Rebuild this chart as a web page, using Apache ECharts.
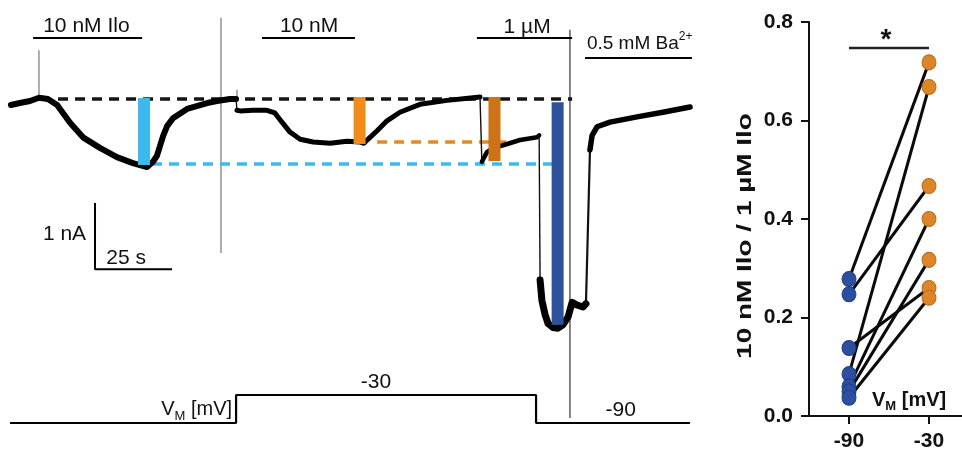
<!DOCTYPE html>
<html>
<head>
<meta charset="utf-8">
<title>Ilo currents</title>
<script src="https://cdn.jsdelivr.net/npm/echarts@6.0.0/dist/echarts.min.js"></script>
<style>
html,body{margin:0;padding:0;background:#ffffff;}
#chart{width:962px;height:449px;}
</style>
</head>
<body>
<div id="chart"></div>
<script>
// ===== Membrane current trace (time in s, current in nA) =====
const traceIlo10nM_m90 = [[0.3,-0.09],[3.2,-0.06],[6.5,-0.03],[9.4,0.02],[12.3,0.0],[15.3,-0.09],[19.5,-0.36],[23.7,-0.58],[29.2,-0.74],[34.7,-0.88],[39.9,-0.97],[44.5,-1.03],[46.4,-0.95],[47.7,-0.86],[49.7,-0.56],[51.0,-0.41],[52.9,-0.29],[57.5,-0.15],[64.0,-0.06],[67.2,-0.03],[71.4,0.0],[73.4,0.0]];
const traceIlo10nM_m30 = [[73.7,-0.17],[74.7,-0.18],[78.9,-0.17],[83.4,-0.17],[86.0,-0.21],[88.3,-0.35],[90.9,-0.50],[94.2,-0.61],[98.4,-0.65],[103.9,-0.67],[109.4,-0.64],[113.6,-0.65],[114.9,-0.67],[116.2,-0.61],[119.2,-0.48],[122.4,-0.33],[126.6,-0.20],[133.1,-0.08],[141.9,-0.02],[150.3,0.02],[152.6,0.03]];
const traceIlo1uM_m30 = [[153.2,-0.95],[154.9,-0.80],[157.0,-0.74],[160.1,-0.70],[165.6,-0.62],[171.1,-0.58],[171.8,-0.55]];
const traceIlo1uM_m90 = [[172.1,-2.74],[172.7,-3.05],[173.7,-3.26],[174.7,-3.40],[176.3,-3.46],[177.9,-3.47],[179.5,-3.42],[181.2,-3.30],[182.5,-3.08],[184.1,-3.12],[186.0,-3.15],[187.0,-3.10]];
const traceBa = [[188.3,-0.77],[189.0,-0.55],[190.6,-0.42],[194.8,-0.35],[203.6,-0.27],[212.0,-0.20],[220.8,-0.12]];

// ===== Voltage protocol (s, mV) =====
const voltageTime  = [0, 73.4, 73.4, 170.8, 170.8, 220.8];
const voltageLevel = [-90, -90, -30, -30, -90, -90];
const voltageLabelText  = ['-30', '-90'];
const voltageLabelTime  = [118.8, 198.3];
const voltageLabelLevel = [-2.1, -63.2];

// ===== Drug application bars =====
const drugNames      = ['10 nM Ilo', '10 nM', '1 µM', '0.5 mM Ba'];
const drugStart      = [7.5, 81.8, 151.6, 186.7];
const drugEnd        = [42.9, 112.0, 182.5, 221.4];
const drugLevel      = [0.924, 0.924, 0.924, 0.62];
const drugLabelTime  = [24.8, 97.1, 167.9, 187.3];
const drugLabelLevel = [1.11, 1.11, 1.09, 0.833];

// ===== Amplitude bars (nA) =====
const ampTime   = [43.5, 113.5, 157.3, 177.8];
const ampTop    = [0.015, 0.03, 0.03, -0.05];
const ampBottom = [-1.0, -0.68, -0.94, -3.42];

// ===== Dashed reference levels (nA) =====
const refLevel = [0, -0.985, -0.65];
const refStart = [15.6, 46.1, 119.2];
const refEnd   = [182.5, 176.3, 162.3];

// ===== Switching artifacts =====
const artifactTime   = [9.4, 68.5, 73.7, 181.8];
const artifactTop    = [0.74, 1.23, 0.14, 1.05];
const artifactBottom = [0.02, -2.33, -0.02, -4.83];

// ===== Scale bar =====
const scaleBarTime = 25;      // s
const scaleBarCurrent = 1;    // nA
const scaleBarOrigin = [27.6, -2.576];
const scaleLabelText  = ['1 nA', '25 s'];
const scaleLabelTime  = [24.7, 37.7];
const scaleLabelLevel = [-2.05, -2.41];

// ===== Ratio panel =====
const vmCategories = ['-90', '-30'];
const ratioAtM90 = [0.278, 0.247, 0.138, 0.085, 0.060, 0.050, 0.037];
const ratioAtM30 = [0.718, 0.467, 0.260, 0.668, 0.400, 0.317, 0.240];
const ratioTicks = [0, 0.2, 0.4, 0.6, 0.8];
const sigLevel = 0.747;

// ===== Styles =====
const FF = '"Liberation Sans", Arial, Helvetica, sans-serif';
const ampColors = ['#3cbaec', '#f28b1b', '#cc7318', '#2e519e'];
const refColors = ['#151515', '#3cbaec', '#e2892c'];
const blueDot = '#2d4fa0';
const orangeDot = '#dd8529';

const chart = echarts.init(document.getElementById('chart'), null, {renderer: 'canvas'});

const series = [];

// dashed reference lines
refLevel.forEach((lv, i) => {
  series.push({
    type: 'line', xAxisIndex: 0, yAxisIndex: 0, symbol: 'none', silent: true, z: 2,
    data: [[refStart[i], lv], [refEnd[i], lv]],
    lineStyle: {color: refColors[i], width: 3.5, type: [10, 7]}
  });
});

// artifacts
artifactTime.forEach((t, i) => {
  series.push({
    type: 'line', xAxisIndex: 0, yAxisIndex: 0, symbol: 'none', silent: true, z: 1,
    data: [[t, artifactTop[i]], [t, artifactBottom[i]]],
    lineStyle: {color: i === 3 ? '#333333' : '#777777', width: 1.2}
  });
});

// trace segments
const traceSegments = [traceIlo10nM_m90, traceIlo10nM_m30, traceIlo1uM_m30, traceIlo1uM_m90, traceBa];
const segWidths = [6, 5, 4.5, 7, 5.5];
traceSegments.forEach((seg, i) => {
  series.push({
    type: 'line', xAxisIndex: 0, yAxisIndex: 0, symbol: 'none', silent: true, z: 3,
    data: seg, lineStyle: {color: '#000', width: segWidths[i], join: 'round', cap: 'round'}
  });
  if (i < traceSegments.length - 1) {
    const nxt = traceSegments[i + 1];
    series.push({
      type: 'line', xAxisIndex: 0, yAxisIndex: 0, symbol: 'none', silent: true, z: 3,
      data: [seg[seg.length - 1], nxt[0]], lineStyle: {color: '#111', width: i === 3 ? 2.2 : 1.4}
    });
  }
});

// amplitude bars
series.push({
  type: 'custom', xAxisIndex: 0, yAxisIndex: 0, silent: true, z: 5,
  data: ampTime.map((t, i) => [t, ampTop[i], ampBottom[i], i]),
  renderItem: (params, api) => {
    const t = api.value(0);
    const p1 = api.coord([t, api.value(1)]);
    const p2 = api.coord([t, api.value(2)]);
    return {type: 'rect', shape: {x: p1[0] - 6, y: p1[1], width: 12, height: p2[1] - p1[1]},
            style: {fill: ampColors[api.value(3)]}};
  }
});

// drug application bars
drugStart.forEach((s, i) => {
  series.push({
    type: 'line', xAxisIndex: 0, yAxisIndex: 0, symbol: 'none', silent: true, z: 4,
    data: [[s, drugLevel[i]], [drugEnd[i], drugLevel[i]]], lineStyle: {color: '#000', width: 2}
  });
});

// scale bar
series.push({
  type: 'line', xAxisIndex: 0, yAxisIndex: 0, symbol: 'none', silent: true, z: 4,
  data: [[scaleBarOrigin[0], scaleBarOrigin[1] + scaleBarCurrent], scaleBarOrigin,
         [scaleBarOrigin[0] + scaleBarTime, scaleBarOrigin[1]]],
  lineStyle: {color: '#000', width: 2}
});

// texts in current panel
const curTexts = [];
drugNames.forEach((n, i) => curTexts.push({t: drugLabelTime[i], v: drugLabelLevel[i], i: i}));
scaleLabelText.forEach((n, i) => curTexts.push({t: scaleLabelTime[i], v: scaleLabelLevel[i], i: 4 + i}));
series.push({
  type: 'custom', xAxisIndex: 0, yAxisIndex: 0, silent: true, z: 10,
  data: curTexts.map(o => [o.t, o.v, o.i]),
  renderItem: (params, api) => {
    const idx = api.value(2);
    const p = api.coord([api.value(0), api.value(1)]);
    if (idx === 3) {
      return {type: 'text', x: p[0], y: p[1], style: {
        text: '{a|' + drugNames[3] + '}{s|2+}', align: 'left', verticalAlign: 'middle', fill: '#111',
        rich: {a: {fontSize: 19, fontFamily: FF, lineHeight: 26, verticalAlign: 'middle', fill: '#111'},
               s: {fontSize: 12, fontFamily: FF, lineHeight: 12, verticalAlign: 'top', fill: '#111'}}}};
    }
    const txt = idx < 4 ? drugNames[idx] : scaleLabelText[idx - 4];
    return {type: 'text', x: p[0], y: p[1], style: {
      text: txt, font: '21px ' + FF, fill: '#111', align: idx === 4 ? 'right' : 'center', verticalAlign: 'middle'}};
  }
});

// voltage protocol
series.push({
  type: 'line', xAxisIndex: 1, yAxisIndex: 1, symbol: 'none', silent: true, z: 3,
  data: voltageTime.map((t, i) => [t, voltageLevel[i]]), lineStyle: {color: '#000', width: 2.2}
});
series.push({
  type: 'custom', xAxisIndex: 1, yAxisIndex: 1, silent: true, z: 10,
  data: voltageLabelTime.map((t, i) => [t, voltageLabelLevel[i], i]).concat([[72.1, -61, 2]]),
  renderItem: (params, api) => {
    const idx = api.value(2);
    const p = api.coord([api.value(0), api.value(1)]);
    if (idx === 2) {
      return {type: 'text', x: p[0], y: p[1], style: {
        text: '{a|V}{s|M}{a| [mV]}', align: 'right', verticalAlign: 'middle', fill: '#111',
        rich: {a: {fontSize: 20, fontFamily: FF, lineHeight: 26, verticalAlign: 'middle', fill: '#111'},
               s: {fontSize: 13, fontFamily: FF, lineHeight: 13, verticalAlign: 'bottom', fill: '#111'}}}};
    }
    return {type: 'text', x: p[0], y: p[1], style: {
      text: voltageLabelText[idx], font: '21px ' + FF, fill: '#111', align: 'center', verticalAlign: 'middle'}};
  }
});

// ratio panel: pair lines
ratioAtM90.forEach((a, i) => {
  series.push({
    type: 'line', xAxisIndex: 2, yAxisIndex: 2, symbol: 'none', silent: true, z: 2,
    data: [[vmCategories[0], a], [vmCategories[1], ratioAtM30[i]]],
    lineStyle: {color: '#0a0a0a', width: 3}
  });
});
series.push({
  type: 'scatter', xAxisIndex: 2, yAxisIndex: 2, silent: true, z: 3, symbolSize: [14, 15],
  data: ratioAtM90.map(v => [vmCategories[0], v]),
  itemStyle: {color: blueDot, borderColor: '#1f3c85', borderWidth: 1, opacity: 1}
});
series.push({
  type: 'scatter', xAxisIndex: 2, yAxisIndex: 2, silent: true, z: 3, symbolSize: [14, 15],
  data: ratioAtM30.map(v => [vmCategories[1], v]),
  itemStyle: {color: orangeDot, borderColor: '#b96b1d', borderWidth: 1, opacity: 1}
});
// significance
series.push({
  type: 'line', xAxisIndex: 2, yAxisIndex: 2, symbol: 'none', silent: true, z: 2,
  data: [[vmCategories[0], sigLevel], [vmCategories[1], sigLevel]],
  lineStyle: {color: '#222', width: 2.5}
});
series.push({
  type: 'custom', xAxisIndex: 2, yAxisIndex: 2, silent: true, z: 10,
  data: [[0, sigLevel]],
  renderItem: (params, api) => {
    const p1 = api.coord([0, api.value(1)]);
    const p2 = api.coord([1, api.value(1)]);
    return {type: 'text', x: (p1[0] + p2[0]) / 2 - 3, y: p1[1] - 8, style: {
      text: '*', font: 'bold 28px ' + FF, fill: '#111', align: 'center', verticalAlign: 'middle'}};
  }
});

const hiddenX = (g) => ({gridIndex: g, type: 'value', min: 0, max: 225, show: false});

const option = {
  animation: false,
  backgroundColor: '#ffffff',
  grid: [
    {left: 10, top: 0, width: 693, height: 449, outerBoundsMode: 'none', containLabel: false},
    {left: 10, top: 367, width: 693, height: 70, outerBoundsMode: 'none', containLabel: false},
    {left: 809, top: 22, width: 160, height: 394, outerBoundsMode: 'none', containLabel: false}
  ],
  xAxis: [
    hiddenX(0), hiddenX(1),
    {gridIndex: 2, type: 'category', data: vmCategories, boundaryGap: true,
     axisLine: {show: true, lineStyle: {color: '#111', width: 2}},
     axisTick: {show: true, alignWithLabel: true, length: 8, lineStyle: {color: '#111', width: 2}},
     axisLabel: {color: '#111', fontSize: 21, fontWeight: 'bold', fontFamily: FF, margin: 15},
     splitLine: {show: false}}
  ],
  yAxis: [
    {gridIndex: 0, type: 'value', min: -5.3, max: 1.5, show: false},
    {gridIndex: 1, type: 'value', min: -120, max: 30, show: false},
    {gridIndex: 2, type: 'value', min: ratioTicks[0], max: ratioTicks[ratioTicks.length - 1], interval: 0.2,
     axisLine: {show: true, lineStyle: {color: '#111', width: 2}},
     axisTick: {show: true, length: 8, lineStyle: {color: '#111', width: 2}},
     axisLabel: {color: '#111', fontSize: 21, fontWeight: 'bold', fontFamily: FF, margin: 16,
                 formatter: v => v.toFixed(1)},
     splitLine: {show: false}}
  ],
  graphic: [
    {type: 'line', silent: true, shape: {x1: 801, y1: 416, x2: 809, y2: 416}, style: {stroke: '#111', lineWidth: 2}},
    {type: 'text', x: 745, y: 236, rotation: Math.PI / 2, scaleX: 1.33, silent: true,
     style: {text: '10 nM Ilo / 1 µM Ilo', font: 'bold 21px ' + FF, fill: '#111', align: 'center', verticalAlign: 'middle'}},
    {type: 'text', x: 872, y: 400, silent: true,
     style: {text: '{a|V}{s|M}{a| [mV]}', align: 'left', verticalAlign: 'middle', fill: '#111',
             rich: {a: {fontSize: 20, fontWeight: 'bold', fontFamily: FF, lineHeight: 26, verticalAlign: 'middle', fill: '#111'},
                    s: {fontSize: 13, fontWeight: 'bold', fontFamily: FF, lineHeight: 13, verticalAlign: 'bottom', fill: '#111'}}}}
  ],
  series: series
};

chart.setOption(option);
</script>
</body>
</html>
